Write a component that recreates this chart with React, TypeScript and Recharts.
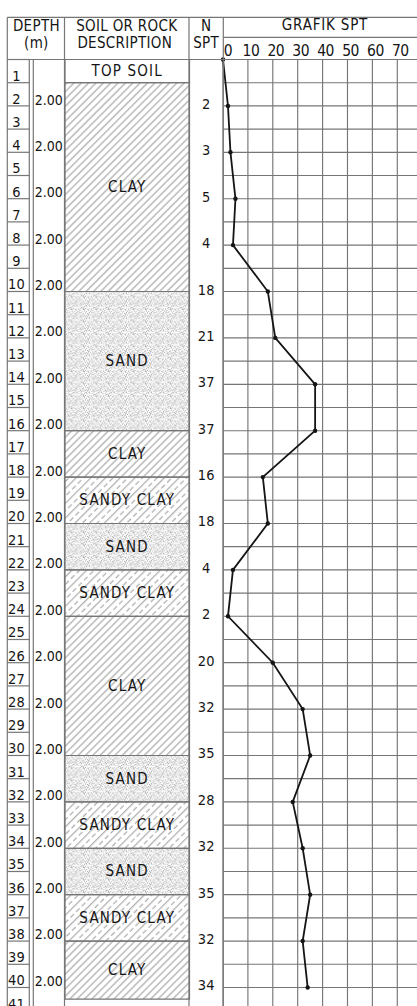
import React from 'react';
import {
  ComposedChart,
  ScatterChart,
  Scatter,
  XAxis,
  YAxis,
  CartesianGrid,
  ReferenceArea,
} from 'recharts';

// ============================================================================
// Data
// ============================================================================

const ROW_NUMBERS = [
  1, 2, 3, 4, 5, 6, 7, 8, 9, 10, 11, 12, 13, 14, 15, 16, 17, 18, 19, 20, 21,
  22, 23, 24, 25, 26, 27, 28, 29, 30, 31, 32, 33, 34, 35, 36, 37, 38, 39, 40,
  41,
];

const SPT_DEPTHS = [0, 2, 4, 6, 8, 10, 12, 14, 16, 18, 20, 22, 24, 26, 28, 30, 32, 34, 36, 38, 40];
const SPT_N = [0, 2, 3, 5, 4, 18, 21, 37, 37, 16, 18, 4, 2, 20, 32, 35, 28, 32, 35, 32, 34];

const LAYER_NAMES = [
  'TOP SOIL', 'CLAY', 'SAND', 'CLAY', 'SANDY CLAY', 'SAND', 'SANDY CLAY',
  'CLAY', 'SAND', 'SANDY CLAY', 'SAND', 'SANDY CLAY', 'CLAY',
];
const LAYER_TOPS = [0, 1, 10, 16, 18, 20, 22, 24, 30, 32, 34, 36, 38];
const LAYER_BOTTOMS = [1, 10, 16, 18, 20, 22, 24, 30, 32, 34, 36, 38, 40.5];

const N_TICKS = [0, 10, 20, 30, 40, 50, 60, 70];

// ============================================================================
// Layout
// ============================================================================

const PAGE_W = 417;
const PAGE_H = 1006;
const Y0 = 59.5; // pixel row of depth 0
const PX_PER_M = 23.2;
const DEPTH_MAX = 42;
const CHART_H = Y0 + DEPTH_MAX * PX_PER_M;
const HEAD_TOP = 17.3;
const HEAD_MID = 37.3;

const X_LEFT = 7.3;
const X_NUM = 29.3;
const X_NUM2 = 33.3;
const X_THK = 64.5;
const X_SOIL = 189;
const X_N = 223.3;
const N_MAX = 80;
const PX_PER_N = 2.49;

const LINE = '#767676';
const HATCH = '#858585';
const INK = '#151515';
const FONT = "'DejaVu Sans Condensed', 'DejaVu Sans', sans-serif";

const PATTERN_OF: Record<string, string | null> = {
  'TOP SOIL': null,
  CLAY: 'url(#clay)',
  SAND: 'url(#sand)',
  'SANDY CLAY': 'url(#sandyclay)',
};

// sand texture specks (20x20 tile, drawn scaled down)
const SAND_SPECKS = [
  [0.5, 1.2], [3.8, 0.4], [7.1, 2.3], [10.6, 0.9], [14.2, 1.8], [17.5, 0.3],
  [1.9, 4.1], [5.4, 3.6], [9.0, 5.2], [12.3, 3.9], [15.8, 4.7], [18.9, 3.2],
  [0.3, 7.6], [3.6, 6.9], [6.8, 8.4], [10.2, 7.3], [13.7, 8.1], [17.1, 6.6],
  [2.4, 10.5], [5.9, 11.3], [8.7, 10.1], [12.0, 11.8], [15.3, 10.4], [18.6, 11.6],
  [0.9, 14.2], [4.3, 13.5], [7.5, 14.9], [11.1, 13.8], [14.6, 14.5], [17.9, 13.1],
  [2.1, 17.6], [5.2, 16.8], [8.9, 18.2], [12.5, 16.9], [15.9, 18.0], [19.2, 17.2],
  [1.4, 19.3], [6.6, 19.5], [10.4, 19.0], [13.3, 19.6], [17.0, 19.4],
  [3.0, 2.5], [8.2, 6.0], [16.4, 9.0], [6.0, 15.6], [11.8, 9.4], [19.0, 5.5],
  [4.8, 8.9], [13.9, 12.6], [9.6, 16.3],
];

// ============================================================================
// Derived tables
// ============================================================================

const rowLabels = ROW_NUMBERS.map((r) => ({ pos: 0.5, depth: r, label: String(r) }));
const thicknessLabels = SPT_DEPTHS.slice(1).map((d, i) => ({
  pos: 1,
  depth: d,
  label: (d - SPT_DEPTHS[i]).toFixed(2),
}));
const nLabels = SPT_DEPTHS.slice(1).map((d, i) => ({ pos: 0.5, depth: d, label: String(SPT_N[i + 1]) }));
const layerLabels = LAYER_NAMES.map((name, i) => ({
  pos: 0.5,
  depth: (LAYER_TOPS[i] + LAYER_BOTTOMS[i]) / 2,
  label: name,
}));
const sptPoints = SPT_DEPTHS.map((d, i) => ({ depth: d, n: SPT_N[i] }));
const gridDepths = [0, ...ROW_NUMBERS, DEPTH_MAX];

// ============================================================================
// Pieces
// ============================================================================

function textShape(dx: number, dy: number, anchor: string, size: number, spacing = 0, central = false) {
  return (props: any) => (
    <text
      x={props.cx + dx}
      y={props.cy + dy}
      textAnchor={anchor}
      dominantBaseline={central ? 'central' : 'auto'}
      fontFamily={FONT}
      fontSize={size}
      fill={INK}
      style={{ letterSpacing: spacing }}
    >
      {props.payload.label}
    </text>
  );
}

function Column({
  left,
  width,
  children,
}: {
  left: number;
  width: number;
  children: React.ReactNode;
}) {
  return (
    <div style={{ position: 'absolute', left, top: 0 }}>
      <ComposedChart width={width} height={CHART_H} margin={{ top: Y0, right: 0, bottom: 0, left: 0 }}>
        <XAxis type="number" dataKey="pos" domain={[0, 1]} hide />
        <YAxis type="number" dataKey="depth" domain={[0, DEPTH_MAX]} ticks={gridDepths} reversed hide />
        {children}
      </ComposedChart>
    </div>
  );
}

function NTick({ x, payload }: any) {
  const dx = payload.value === 0 ? 5 : 3;
  return (
    <text x={x + dx} y={Y0 - 4} textAnchor="middle" fontFamily={FONT} fontSize={15.5} fill={INK}
      style={{ letterSpacing: -0.5 }}>
      {payload.value}
    </text>
  );
}

function Dot(props: any) {
  return <circle cx={props.cx} cy={props.cy} r={2.2} fill={INK} />;
}

function Frame() {
  const head = { fontFamily: FONT, fontSize: 15, fill: INK, textAnchor: 'middle' as const, style: { letterSpacing: 0.3 } };
  const v = (x: number, y1: number) => <line key={`v${x}`} x1={x} x2={x} y1={y1} y2={PAGE_H} stroke={LINE} strokeWidth={1.2} />;
  return (
    <svg width={PAGE_W} height={PAGE_H} style={{ position: 'absolute', left: 0, top: 0, pointerEvents: 'none' }}>
      <line x1={X_LEFT} x2={PAGE_W} y1={HEAD_TOP} y2={HEAD_TOP} stroke={LINE} strokeWidth={1.2} />
      <line x1={X_LEFT} x2={PAGE_W} y1={Y0} y2={Y0} stroke={LINE} strokeWidth={1.2} />
      <line x1={X_N} x2={PAGE_W} y1={HEAD_MID} y2={HEAD_MID} stroke={LINE} strokeWidth={1.2} />
      {v(X_LEFT, HEAD_TOP)}
      {v(X_NUM, Y0)}
      {v(X_NUM2, Y0)}
      {v(X_THK, HEAD_TOP)}
      {v(X_SOIL, HEAD_TOP)}
      {v(X_N, HEAD_TOP)}
      <text x={(X_LEFT + X_THK) / 2 + 0.5} y={30.5} {...head}>DEPTH</text>
      <text x={(X_LEFT + X_THK) / 2 + 0.5} y={48} {...head}>(m)</text>
      <text x={(X_THK + X_SOIL) / 2} y={30.5} {...head}>SOIL OR ROCK</text>
      <text x={(X_THK + X_SOIL) / 2 - 2} y={48} {...head}>DESCRIPTION</text>
      <text x={(X_SOIL + X_N) / 2} y={30.5} {...head}>N</text>
      <text x={(X_SOIL + X_N) / 2} y={48} {...head}>SPT</text>
      <text x={325} y={30} {...head} style={{ letterSpacing: 0.8 }}>GRAFIK SPT</text>
    </svg>
  );
}

// ============================================================================
// Main Component
// ============================================================================

export default function App() {
  const speckPath = SAND_SPECKS.map(([x, y]) => `M${x} ${y}h1.3v1.3h-1.3z`).join('');
  return (
    <div style={{ position: 'relative', width: PAGE_W, height: PAGE_H, overflow: 'hidden', background: '#fff' }}>
      <style>{'body{margin:0}.recharts-surface{overflow:visible}'}</style>

      {/* depth row numbers */}
      <Column left={X_LEFT} width={X_NUM - X_LEFT}>
        <CartesianGrid vertical={false} stroke={LINE} strokeWidth={1.2} />
        <Scatter data={rowLabels} isAnimationActive={false} shape={textShape(-1.5, -2, 'middle', 14.5, 0.2)} />
      </Column>

      {/* thickness */}
      <Column left={X_NUM2} width={X_THK - X_NUM2}>
        <Scatter data={thicknessLabels} isAnimationActive={false} shape={textShape(-1.5, -1.5, 'end', 14, 0)} />
      </Column>

      {/* soil description */}
      <Column left={X_THK} width={X_SOIL - X_THK}>
        <defs>
          <pattern id="clay" width={5.2} height={5.2} patternUnits="userSpaceOnUse" patternTransform="rotate(45)">
            <line x1={2.6} x2={2.6} y1={0} y2={5.2} stroke={HATCH} strokeWidth={0.85} />
          </pattern>
          <pattern id="sandyclay" width={10.4} height={8} patternUnits="userSpaceOnUse" patternTransform="rotate(45)">
            <line x1={2.6} x2={2.6} y1={0} y2={8} stroke={HATCH} strokeWidth={0.85} />
            <line x1={7.8} x2={7.8} y1={0} y2={8} stroke={HATCH} strokeWidth={0.85} strokeDasharray="5 3" />
          </pattern>
          <pattern id="sand" width={20} height={20} patternUnits="userSpaceOnUse" patternTransform="scale(0.62)">
            <path d={speckPath} fill="#7d7d7d" />
          </pattern>
        </defs>
        {LAYER_NAMES.map((name, i) => (
          <ReferenceArea
            key={`layer-${i}`}
            x1={0}
            x2={1}
            y1={LAYER_TOPS[i]}
            y2={LAYER_BOTTOMS[i]}
            fill={PATTERN_OF[name] || '#fff'}
            fillOpacity={1}
            stroke={LINE}
            strokeWidth={1.2}
            ifOverflow="visible"
          />
        ))}
        <Scatter data={layerLabels} isAnimationActive={false} shape={textShape(0, 0, 'middle', 15, 1.2, true)} />
      </Column>

      {/* N SPT values */}
      <Column left={X_SOIL} width={X_N - X_SOIL}>
        <Scatter data={nLabels} isAnimationActive={false} shape={textShape(0, 3, 'middle', 14.5, 0)} />
      </Column>

      {/* SPT graph */}
      <div style={{ position: 'absolute', left: X_N, top: 0 }}>
        <ScatterChart
          width={N_MAX * PX_PER_N + 10}
          height={CHART_H}
          margin={{ top: Y0 - 20, right: 10, bottom: 0, left: 0 }}
        >
          <CartesianGrid stroke={LINE} strokeWidth={1.15} />
          <XAxis
            type="number"
            dataKey="n"
            orientation="top"
            domain={[0, N_MAX]}
            ticks={N_TICKS}
            interval={0}
            height={20}
            axisLine={false}
            tickLine={false}
            tick={<NTick />}
          />
          <YAxis type="number" dataKey="depth" domain={[0, DEPTH_MAX]} ticks={gridDepths} reversed hide />
          <Scatter
            data={sptPoints}
            line={{ stroke: INK, strokeWidth: 1.8 }}
            shape={<Dot />}
            isAnimationActive={false}
          />
        </ScatterChart>
      </div>

      <Frame />
    </div>
  );
}
